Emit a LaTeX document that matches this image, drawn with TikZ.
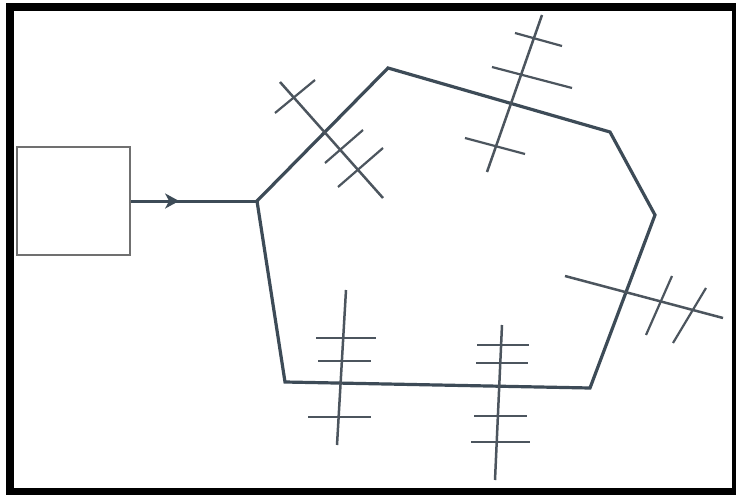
\documentclass[tikz,border=0pt]{standalone}
\usepackage{tikz}
\usetikzlibrary{arrows.meta,positioning,decorations.markings}
\definecolor{wallgray}{HTML}{3D4B57}
\definecolor{boxgray}{HTML}{707070}
\definecolor{mastgray}{HTML}{4C555E}

\begin{document}
\begin{tikzpicture}[
  x=1pt, y=-1pt,
  wall/.style={draw=wallgray, line width=3.2pt, line join=miter},
  mast/.style={draw=mastgray, line width=2.5pt},
  rung/.style={draw=mastgray, line width=2.2pt},
  feed/.style={draw=wallgray, line width=3pt,
    postaction={decorate, decoration={markings, mark=at position 0.38 with {\arrow{Stealth[length=14pt,width=15pt,inset=4pt]}}}}},
]
  % frame
  \fill[white] (0,0) rectangle (736,495);
  \fill[black] (6,3) rectangle (736,495);
  \fill[white] (14,11) rectangle (732,488);
  \useasboundingbox (0,0) rectangle (736,495);

  % source box
  \node[draw=boxgray, line width=2.8pt, minimum width=113pt, minimum height=108pt, inner sep=0pt] (src) at (73.5,201) {};

  % room outline
  \coordinate (v1) at (257,201);
  \coordinate (v2) at (388,68);
  \coordinate (v3) at (610,132);
  \coordinate (v4) at (655,215);
  \coordinate (v5) at (590,388);
  \coordinate (v6) at (285,382);
  \draw[feed] (src.east) -- (v1);
  \draw[wall] (v1) -- (v2) -- (v3) -- (v4) -- (v5) -- (v6) -- cycle;

  % antenna upper left
  \draw[mast] (280,82) -- (383,198);
  \draw[rung] (275,113) -- (315,80);
  \draw[rung] (325,163) -- (363,130);
  \draw[rung] (338,187) -- (383,148);

  % antenna top
  \draw[mast] (542,15) -- (487,172);
  \draw[rung] (515,33) -- (562,46);
  \draw[rung] (492,67) -- (572,88);
  \draw[rung] (465,138) -- (525,154);

  % antenna right
  \draw[mast] (565,276) -- (723,318);
  \draw[rung] (672,276) -- (646,335);
  \draw[rung] (706,288) -- (673,343);

  % antenna bottom left
  \draw[mast] (346,290) -- (337,445);
  \draw[rung] (316,338) -- (376,338);
  \draw[rung] (318,361) -- (371,361);
  \draw[rung] (308,417) -- (371,417);

  % antenna bottom right
  \draw[mast] (502,325) -- (495,480);
  \draw[rung] (477,345) -- (529,345);
  \draw[rung] (476,363) -- (528,363);
  \draw[rung] (474,416) -- (527,416);
  \draw[rung] (471,442) -- (530,442);
\end{tikzpicture}
\end{document}
